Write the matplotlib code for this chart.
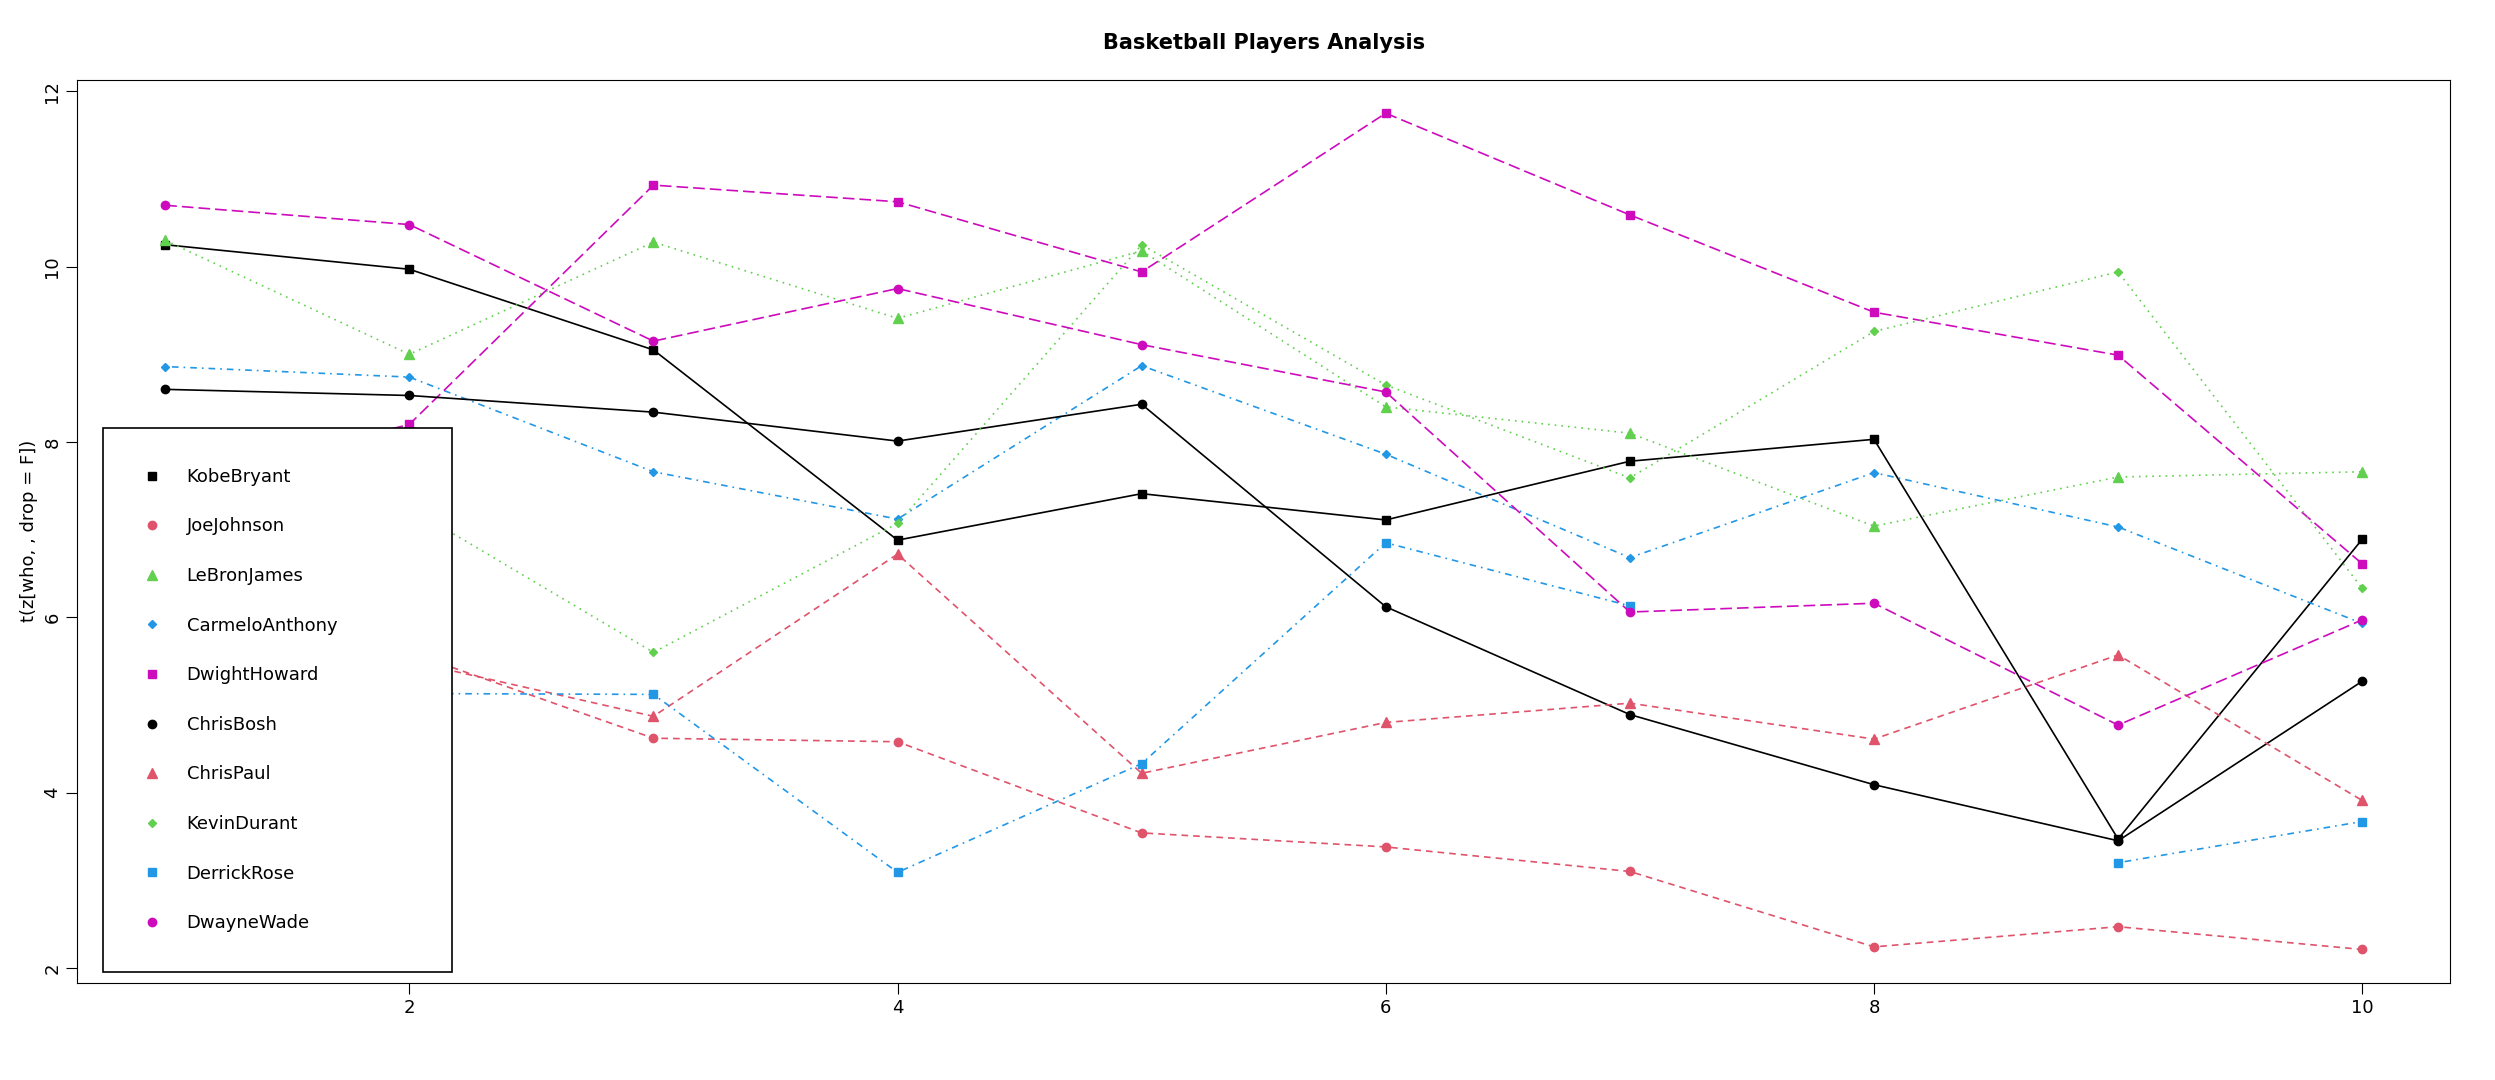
import numpy as np
import matplotlib.pyplot as plt

games = np.arange(1, 11)
players = ['KobeBryant', 'JoeJohnson', 'LeBronJames', 'CarmeloAnthony', 'DwightHoward',
           'ChrisBosh', 'ChrisPaul', 'KevinDurant', 'DerrickRose', 'DwayneWade']

kobe = [10.25, 9.97, 9.05, 6.88, 7.41, 7.11, 7.78, 8.03, 3.47, 6.89]
joe = [6.0, 5.6, 4.62, 4.58, 3.54, 3.38, 3.10, 2.24, 2.47, 2.21]
lebron = [10.30, 9.00, 10.28, 9.41, 10.18, 8.40, 8.10, 7.04, 7.60, 7.66]
carmelo = [8.86, 8.74, 7.66, 7.12, 8.87, 7.86, 6.68, 7.65, 7.03, 5.93]
dwight = [7.5, 8.2, 10.93, 10.74, 9.94, 11.75, 10.59, 9.48, 8.99, 6.61]
bosh = [8.6, 8.53, 8.34, 8.01, 8.43, 6.12, 4.89, 4.09, 3.45, 5.27]
paul = [5.8, 5.5, 4.87, 6.72, 4.22, 4.80, 5.02, 4.61, 5.57, 3.91]
durant = [7.8, 7.25, 5.60, 7.07, 10.25, 8.65, 7.59, 9.26, 9.94, 6.33]
rose = [5.1, 5.13, 5.12, 3.09, 4.33, 6.85, 6.13, np.nan, 3.20, 3.67]
wade = [10.70, 10.48, 9.15, 9.75, 9.11, 8.57, 6.06, 6.16, 4.77, 5.97]

series = [kobe, joe, lebron, carmelo, dwight, bosh, paul, durant, rose, wade]
colors = ['black', '#DF536B', '#61D04F', '#2297E6', '#CD0BBC']
styles = ['-', (0, (4, 3)), (0, (1, 3)), (0, (1, 3, 4, 3)), (0, (7, 3))]
markers = ['s', 'o', '^', 'D', 's', 'o', '^', 'D', 's', 'o']
msizes = [6, 6, 7, 4, 6, 6, 7, 4, 6, 6]

fig = plt.figure(figsize=(24.95, 10.8), dpi=100)
ax = fig.add_axes([0.031, 0.09, 0.951, 0.836])
handles = []
for i, (name, vals) in enumerate(zip(players, series)):
    c = colors[i % 5]
    ax.plot(games, vals, color=c, linestyle=styles[i % 5], linewidth=1.2)
    h, = ax.plot(games, vals, color=c, linestyle='none', marker=markers[i],
                 markersize=msizes[i], label=name)
    handles.append(h)

ax.set_xlim(0.64, 10.36)
ax.set_ylim(1.83, 12.13)
ax.set_xticks([2, 4, 6, 8, 10])
ax.set_yticks([2, 4, 6, 8, 10, 12])
ax.tick_params(labelsize=13, length=8)
for lab in ax.get_yticklabels():
    lab.set_rotation(90)
    lab.set_va('center')
ax.set_ylabel('t(z[who, , drop = F])', fontsize=13)
ax.set_title('Basketball Players Analysis', fontsize=15, fontweight='bold', pad=22)

leg = ax.legend(handles=handles, loc='lower left', bbox_to_anchor=(0.011, 0.012, 0.147, 0.641),
                mode='expand', borderaxespad=0, fontsize=13, labelspacing=1.75,
                handlelength=1.0, handletextpad=1.4, fancybox=False, framealpha=1,
                edgecolor='black', borderpad=2.2)
leg.get_frame().set_linewidth(1.2)

fig.savefig('out.png')
